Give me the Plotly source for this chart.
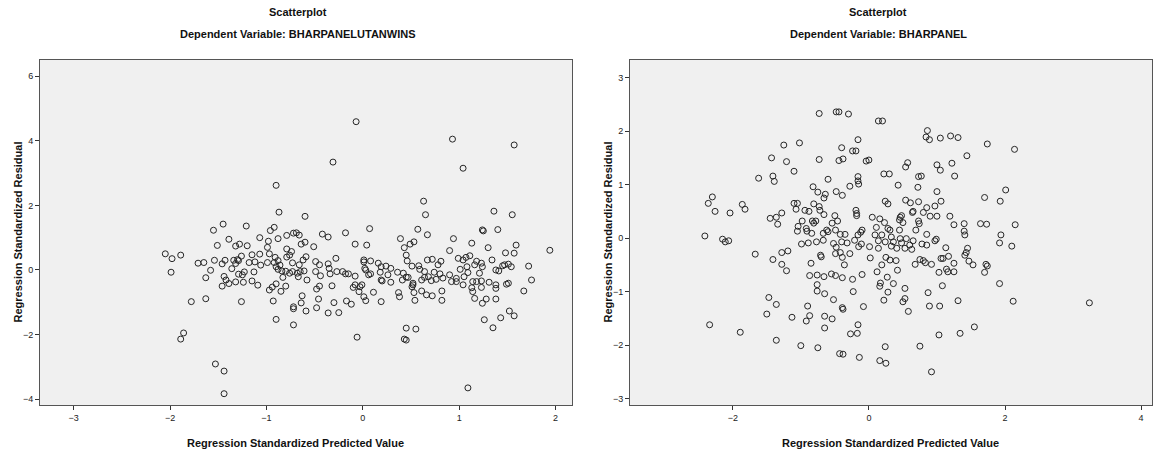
import plotly.graph_objects as go

# ---------- Left panel: Dependent Variable BHARPANELUTANWINS ----------
left_pred = [
 -0.90,-0.87,-1.55,-1.45,-1.21,-1.39,-1.51,-1.32,-1.28,-1.20,-1.07,-0.96,-0.92,-0.88,-0.98,-0.99,-0.79,-0.72,-0.79,-2.05,-1.98,-1.89,
 -0.07,-0.31,-0.60,0.63,0.65,0.07,-0.18,-0.42,-0.36,-0.69,-0.66,-0.60,-0.64,-0.51,-0.08,0.04,0.39,0.57,0.67,0.53,0.49,0.43,
 0.93,1.57,1.04,1.36,1.55,1.24,1.25,1.40,0.94,1.13,1.30,1.59,0.90,1.48,1.57,1.94,
 -1.99,-1.71,-1.65,-1.54,-1.46,-1.43,-1.58,-1.63,-1.44,-1.42,-1.46,-1.39,-1.32,-1.36,-1.34,-1.30,-1.29,-1.32,-1.26,-1.18,-1.12,-1.15,-1.07,-1.06,-1.13,
 -1.29,-1.25,-1.23,-1.24,-1.15,-1.09,-0.97,-0.99,-0.92,-0.91,-0.88,-0.86,-0.90,-0.88,-0.84,-0.79,-0.76,-0.80,-0.76,-0.73,-0.73,-0.83,-0.90,-0.94,-0.97,
 -0.85,-0.80,-0.93,-1.26,-1.63,-1.78,-0.90,-0.72,-0.72,-0.72,-1.86,-1.89,-1.53,-1.44,-1.44,-0.74,
 -0.59,-0.62,-0.66,-0.65,-0.68,-0.61,-0.67,-0.58,-0.63,-0.64,-0.59,-0.49,-0.45,-0.49,-0.44,-0.36,-0.35,-0.34,-0.28,-0.27,-0.21,-0.18,-0.15,-0.08,
 -0.32,-0.45,-0.48,-0.46,-0.48,-0.36,-0.30,-0.25,-0.17,-0.12,-0.08,-0.10,-0.03,-0.04,-0.01,0.01,0.03,0.01,0.01,0.08,0.02,0.03,0.06,0.08,0.11,0.19,
 -0.06,0.16,0.19,0.24,0.18,0.19,0.20,0.26,0.29,0.29,0.36,0.42,0.41,0.46,0.45,0.51,0.45,0.47,0.52,0.52,0.51,0.58,0.59,0.64,0.61,0.64,0.68,0.67,
 0.37,0.38,0.53,0.54,0.61,0.66,0.45,0.55,0.43,0.45,
 0.72,0.81,0.78,0.74,0.80,0.71,0.76,0.83,0.90,0.92,0.99,1.04,1.07,1.11,1.01,1.08,1.09,0.97,1.05,0.97,1.04,1.16,1.23,1.24,1.21,1.14,1.18,1.23,
 1.13,1.23,1.14,1.16,1.24,1.28,1.31,1.34,1.38,1.41,1.38,1.38,1.38,1.45,1.47,1.51,1.54,1.49,1.51,1.72,1.75,1.67,0.82,0.82,0.72,
 1.26,1.43,1.35,1.52,1.57,1.09,1.18
]
left_resid = [
 2.62,1.79,1.23,1.42,1.36,0.95,0.76,0.74,0.80,0.75,1.00,1.22,1.32,0.97,0.89,0.70,1.07,1.14,0.65,0.50,0.35,0.46,
 4.59,3.34,1.66,2.13,1.71,1.28,1.15,1.11,1.02,1.15,1.08,0.86,0.80,0.72,0.80,0.77,0.97,1.26,1.09,0.87,0.80,0.69,
 4.05,3.87,3.15,1.82,1.71,1.24,1.21,1.25,0.97,0.83,0.69,0.77,0.60,0.53,0.52,0.61,
 -0.07,0.21,0.23,0.30,0.19,0.30,-0.01,-0.24,-0.20,-0.31,-0.50,-0.42,-0.37,0.04,0.30,0.32,0.29,0.20,0.43,0.23,0.25,0.47,0.49,0.15,-0.06,
 -0.13,-0.15,-0.06,-0.38,-0.34,-0.47,0.50,0.23,0.23,0.39,0.29,0.15,0.10,0.02,-0.03,0.40,0.46,-0.04,-0.10,0.22,-0.05,-0.23,-0.43,-0.53,-0.62,
 -0.66,-0.50,-0.96,-0.98,-0.89,-0.98,-1.53,-1.14,-1.20,-1.70,-1.95,-2.14,-2.91,-3.13,-3.83,0.57,
 0.41,0.31,0.16,-0.05,-0.10,-0.03,-0.21,-0.31,-0.80,-1.02,-1.27,0.26,0.16,-0.05,-0.18,0.19,0.05,-0.12,0.36,-0.05,-0.05,-0.12,-0.12,-0.19,
 -0.49,-0.50,-0.59,-0.90,-1.17,-1.33,-1.01,-1.32,-0.96,-1.06,-0.46,-0.54,-0.52,-0.67,-0.46,-0.83,-0.95,0.31,0.25,0.28,0.05,0.00,-0.15,-0.12,-0.69,-0.98,
 -2.08,0.21,0.10,0.12,-0.07,-0.31,-0.34,-0.15,0.05,-0.38,-0.07,-0.10,-0.31,0.28,0.46,0.12,-0.22,-0.23,-0.41,-0.46,-0.52,0.13,0.02,-0.05,-0.31,-0.23,-0.21,0.31,
 -0.70,-0.83,-0.70,-0.94,-0.65,-0.77,-1.80,-1.83,-2.14,-2.17,
 0.33,0.27,0.16,-0.07,-0.12,-0.33,-0.29,-0.25,-0.15,-0.36,0.36,0.31,0.39,0.44,0.02,0.10,-0.08,-0.26,-0.21,-0.36,-0.46,0.16,0.21,0.10,-0.10,-0.36,-0.36,-0.34,
 -0.55,-0.54,-0.67,-0.88,-1.03,-0.90,-0.38,0.31,0.00,-0.03,-0.46,-0.57,-0.90,0.13,0.16,0.18,0.10,-0.44,-0.41,0.12,-0.31,-0.65,-0.65,-0.94,-0.80,
 -1.54,-1.48,-1.79,-1.27,-1.42,-3.65,0.27
]

# ---------- Right panel: Dependent Variable BHARPANEL ----------
right_pred = [
 -0.73,-0.48,-0.44,-1.25,-1.02,-1.43,-1.21,-0.73,-0.40,-0.44,-0.38,-1.10,-1.62,-1.41,-1.39,-0.60,-0.82,-0.75,-0.64,-0.66,-0.48,-0.39,
 -2.30,-2.36,-2.26,-2.04,-1.86,-1.82,-1.10,-1.05,-1.07,-0.94,-0.88,-0.81,-0.73,-0.72,-0.66,-0.50,-1.45,-1.36,-1.28,-1.34,-0.98,-0.83,-0.78,-0.81,
 -0.46,-0.54,-1.04,-1.05,-0.92,-0.91,-0.84,-0.62,-0.67,-0.60,-0.49,-0.42,-2.41,-2.15,-2.06,-2.11,-0.99,-0.89,-0.77,-0.67,-0.52,-0.40,
 -0.30,0.14,0.20,-0.16,-0.24,-0.19,-0.04,0.00,0.22,0.30,-0.16,-0.16,-0.15,-0.28,0.43,0.54,0.57,0.73,0.77,0.72,0.86,0.84,0.89,1.05,1.20,1.31,1.74,
 1.44,1.00,1.05,1.22,1.26,1.00,0.24,0.28,0.54,0.61,0.73,1.06,0.85,0.97,0.65,0.64,0.80,1.70,-0.19,-0.18,-0.18,0.05,0.16,0.23,0.46,0.48,0.45,0.50,
 0.73,0.74,0.90,1.00,1.19,1.25,1.40,1.40,1.41,1.64,1.73,0.11,0.28,0.31,0.45,0.69,-0.10,-0.12,-0.16,-0.35,0.09,0.19,0.33,0.46,0.55,0.65,0.85,0.99,
 2.14,2.01,1.93,2.15,1.94,
 -1.67,-1.41,-1.28,-1.19,-1.28,-1.21,-0.48,-0.49,-0.42,-0.39,-0.71,-0.70,-0.85,-0.87,-0.76,-0.66,-0.55,-0.49,-0.39,-0.76,-0.76,-0.65,-0.52,
 -1.47,-1.36,-1.50,-1.13,-0.90,-0.87,-0.92,-0.65,-0.54,-0.65,-0.39,-0.38,-2.34,-1.89,-1.36,-1.00,-0.75,-0.43,-0.38,
 -0.32,-0.28,-0.36,-0.24,-0.10,-0.23,-0.08,-0.16,-0.27,-0.17,-0.14,0.24,0.16,0.25,0.75,0.92,1.03,1.34,1.55,
 0.02,0.12,0.19,0.25,0.31,0.40,0.27,0.36,0.17,0.16,0.28,0.22,0.42,0.53,0.53,0.50,0.58,0.68,0.75,0.80,0.83,0.92,0.87,0.89,1.04,1.08,1.03,
 1.14,1.16,1.25,1.25,1.06,1.09,1.17,1.13,1.31,1.41,1.43,1.45,1.47,1.53,1.72,1.70,
 -0.15,-0.11,0.01,0.14,0.33,0.41,0.48,0.53,0.60,0.63,0.78,0.85,0.97,-0.21,0.14,0.24,0.36,
 1.92,2.10,1.74,1.92,2.12,3.24
]
right_resid = [
 2.33,2.36,2.36,1.74,1.78,1.50,1.43,1.47,1.69,1.45,1.48,1.25,1.12,1.16,1.06,1.10,0.96,0.86,0.82,0.75,0.87,0.80,
 0.77,0.65,0.50,0.47,0.63,0.54,0.65,0.65,0.54,0.52,0.50,0.64,0.59,0.52,0.44,0.42,0.37,0.39,0.47,0.26,0.32,0.32,0.32,0.28,
 0.32,0.28,0.22,0.13,0.18,0.13,0.09,0.15,0.09,0.12,0.15,0.07,0.04,-0.02,-0.05,-0.07,-0.11,-0.09,-0.07,-0.04,-0.10,-0.07,
 2.32,2.19,2.19,1.84,1.63,1.63,1.44,1.46,1.20,1.20,1.15,1.07,1.01,0.97,0.99,1.33,1.41,1.15,1.16,0.95,2.01,1.89,1.84,1.87,1.91,1.88,1.76,
 1.54,1.37,1.27,1.40,1.16,0.87,0.69,0.64,0.71,0.66,0.68,0.69,0.57,0.60,0.50,0.48,0.48,0.76,0.52,0.46,0.42,0.39,0.36,0.29,0.39,0.42,0.34,0.29,
 0.32,0.27,0.41,0.41,0.41,0.25,0.27,0.13,0.06,0.27,0.26,0.20,0.18,0.15,0.15,0.15,0.15,0.11,0.06,0.07,0.06,0.06,0.02,-0.01,-0.01,-0.05,0.07,-0.02,
 1.66,0.90,0.69,0.25,0.06,
 -0.30,-0.40,-0.27,-0.24,-0.49,-0.61,-0.17,-0.29,-0.27,-0.36,-0.32,-0.35,-0.47,-0.70,-0.69,-0.72,-0.67,-0.70,-0.74,-0.87,-0.99,-1.04,-1.15,
 -1.11,-1.24,-1.42,-1.48,-1.27,-1.45,-1.55,-1.46,-1.51,-1.68,-1.30,-1.33,-1.62,-1.76,-1.91,-2.01,-2.05,-2.16,-2.17,
 -0.09,-0.29,-0.50,-0.77,-0.68,-1.00,-1.28,-1.62,-1.79,-1.78,-2.23,-2.03,-2.29,-2.34,-2.02,-2.50,-1.81,-1.78,-1.66,
 -0.37,-0.63,-0.50,-0.36,-0.41,-0.42,-0.73,-0.85,-0.84,-0.90,-1.01,-1.16,-0.60,-0.94,-1.13,-1.19,-1.37,-0.49,-0.40,-0.42,-0.46,-0.49,-1.02,-1.27,-1.27,-0.89,-0.64,
 -0.58,-0.63,-0.63,-0.47,-0.38,-0.38,-0.34,-0.18,-1.17,-0.32,-0.27,-0.19,-0.43,-0.50,-0.49,-0.64,
 -0.16,-0.11,-0.16,-0.19,-0.15,-0.19,-0.09,-0.19,-0.13,-0.21,-0.11,-0.13,-0.05,-0.04,-0.05,-0.07,-0.07,
 -0.09,-0.15,-0.52,-0.85,-1.18,-1.21
]

titles = ["Scatterplot", "Scatterplot"]
subtitles = ["Dependent Variable: BHARPANELUTANWINS", "Dependent Variable: BHARPANEL"]
x_title = "Regression Standardized Predicted Value"
y_title = "Regression Standardized Residual"

W, H = 1160, 461
FONT = "Liberation Sans, Arial, sans-serif"
TFS = 11

def px_x(p):  # window pixel -> paper x
    return p / W

def px_y(p):  # window pixel -> paper y
    return 1 - p / H

fig = go.Figure()
marker = dict(symbol="circle-open", size=6, color="#262626", line=dict(width=1, color="#262626"))
fig.add_trace(go.Scatter(x=left_pred, y=left_resid, mode="markers", marker=marker,
                         xaxis="x", yaxis="y", showlegend=False, hoverinfo="x+y"))
fig.add_trace(go.Scatter(x=right_pred, y=right_resid, mode="markers", marker=marker,
                         xaxis="x2", yaxis="y2", showlegend=False, hoverinfo="x+y"))

# plot-frame boxes in window pixels
L = (40, 572)
R = (630, 1152)
TOP, BOT = 60, 405
ydom = [px_y(BOT), px_y(TOP)]

axis_common = dict(showgrid=False, zeroline=False, showline=True, linecolor="#555",
                   linewidth=1, mirror=True, ticks="outside", ticklen=4, tickcolor="#333",
                   tickfont=dict(family=FONT, size=9, color="#222"))

fig.update_layout(
    width=W, height=H,
    margin=dict(l=0, r=0, t=0, b=0),
    paper_bgcolor="white", plot_bgcolor="#f0f0f0",
    xaxis=dict(domain=[px_x(L[0]), px_x(L[1])], range=[-3.35, 2.17], tickvals=[-3, -2, -1, 0, 1, 2],
               anchor="y", **axis_common),
    yaxis=dict(domain=ydom, range=[-4.18, 6.5], tickvals=[-4, -2, 0, 2, 4, 6], anchor="x", **axis_common),
    xaxis2=dict(domain=[px_x(R[0]), px_x(R[1])], range=[-3.51, 4.16], tickvals=[-2, 0, 2, 4],
                anchor="y2", **axis_common),
    yaxis2=dict(domain=ydom, range=[-3.12, 3.33], tickvals=[-3, -2, -1, 0, 1, 2, 3], anchor="x2", **axis_common),
)

title_cx = [298, 878]
xtitle_cx = [295, 890]
ann = []
for i, (x0, x1) in enumerate([L, R]):
    f = dict(family=FONT, size=TFS, color="#111")
    ann.append(dict(text="<b>" + titles[i] + "</b>", x=px_x(title_cx[i]), y=px_y(12), xref="paper", yref="paper",
                    showarrow=False, font=f, xanchor="center", yanchor="middle"))
    ann.append(dict(text="<b>" + subtitles[i] + "</b>", x=px_x(title_cx[i]), y=px_y(34), xref="paper", yref="paper",
                    showarrow=False, font=f, xanchor="center", yanchor="middle"))
    ann.append(dict(text="<b>" + x_title + "</b>", x=px_x(xtitle_cx[i]), y=px_y(443), xref="paper", yref="paper",
                    showarrow=False, font=f, xanchor="center", yanchor="middle"))
    ann.append(dict(text="<b>" + y_title + "</b>", x=px_x(x0 - 23), y=(ydom[0] + ydom[1]) / 2,
                    xref="paper", yref="paper", textangle=-90,
                    showarrow=False, font=f, xanchor="center", yanchor="middle"))
fig.update_layout(annotations=ann)

# remove the default page margin so the figure fills the window exactly
fig.write_html("out.html", config={"displayModeBar": False},
               post_script="document.body.style.margin='0';")
